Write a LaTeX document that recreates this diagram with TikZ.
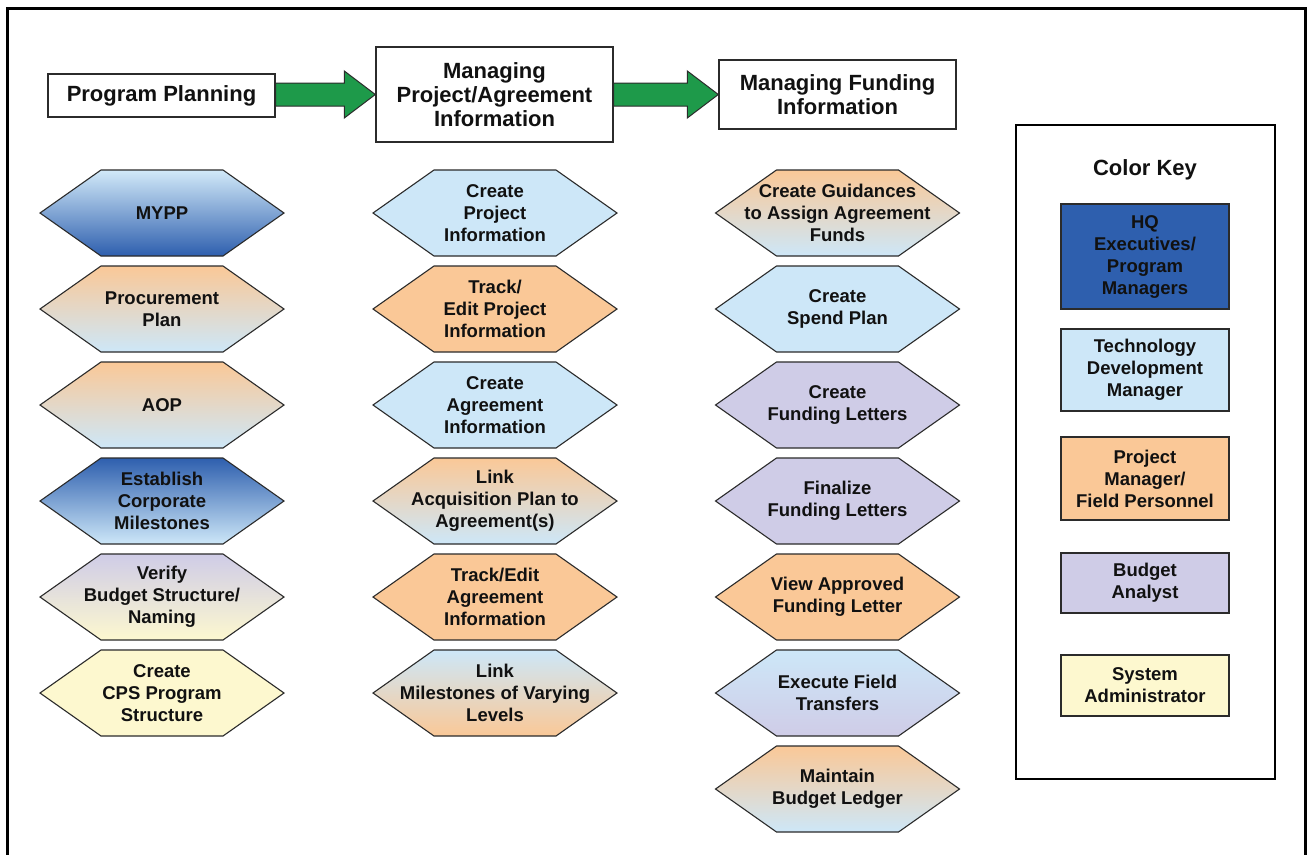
\documentclass[tikz,border=0pt]{standalone}
\usepackage{fontspec}
\setmainfont{Liberation Sans}
\usetikzlibrary{calc}
\definecolor{hqblue}{HTML}{2E5FAE}
\definecolor{ltblue}{HTML}{CDE7F8}
\definecolor{peach}{HTML}{FAC897}
\definecolor{lav}{HTML}{CFCCE7}
\definecolor{lyellow}{HTML}{FDF8CF}
\definecolor{arrgreen}{HTML}{1E9A4A}
\definecolor{edgegray}{HTML}{2B2B2B}
\definecolor{txt}{HTML}{111111}
\newcommand\hexnode[5]{%
  \path[hexline,#4] ({#2-122},#3) -- ({#2-61},{#3-43}) -- ({#2+61},{#3-43}) -- ({#2+122},#3)
     -- ({#2+61},{#3+43}) -- ({#2-61},{#3+43}) -- cycle;
  \node[hexbox] (#1) at (#2,#3) {#5};}
\begin{document}
\begin{tikzpicture}[x=1pt,y=-1pt,
  hexline/.style={draw=edgegray,line width=1.1pt},
  hexbox/.style={align=center,text=txt,font=\bfseries\fontsize{18.5}{22}\selectfont,inner sep=0pt},
  hdr/.style={draw=edgegray,line width=1.4pt,fill=white,align=center,text=txt,font=\bfseries\fontsize{22}{24}\selectfont,inner sep=0pt},
  keybox/.style={draw=edgegray,line width=1.4pt,align=center,text=txt,minimum width=168pt,font=\bfseries\fontsize{18.5}{22}\selectfont,inner sep=0pt},
  garrow/.style={fill=arrgreen,draw=edgegray,line width=1pt,line join=miter},
  solidblue/.style={fill=ltblue},
  solidpeach/.style={fill=peach},
  solidlav/.style={fill=lav},
  solidyel/.style={fill=lyellow},
  ltdk/.style={top color=ltblue!90!white,bottom color=hqblue},
  dklt/.style={top color=hqblue,bottom color=ltblue},
  pbl/.style={top color=peach,bottom color=ltblue},
  bpl/.style={top color=ltblue,bottom color=peach},
  lavyel/.style={top color=lav,bottom color=lyellow},
  blav/.style={top color=ltblue,bottom color=lav}
]
\useasboundingbox (0,0) rectangle (1308,854);
\fill[white] (0,0) rectangle (1308,854);
\draw[line width=3pt,line join=miter] (7,856) -- (7,8) -- (1305,8) -- (1305,856);

% headers
\node[hdr,minimum width=227pt,minimum height=43pt] (pp) at (161.5,95.5) {Program Planning};
\node[hdr,minimum width=237pt,minimum height=95pt] (mp) at (494.5,94.5) {Managing\\Project/Agreement\\Information};
\node[hdr,minimum width=237pt,minimum height=69pt] (mf) at (837.5,94.5) {Managing Funding\\Information};

% arrows
\path[garrow] ($(pp.east |- mp.west)+(0,-11.5)$) -- ($(mp.west)+(-31,-11.5)$) -- ($(mp.west)+(-31,-23.5)$)
  -- (mp.west) -- ($(mp.west)+(-31,23.5)$) -- ($(mp.west)+(-31,11.5)$) -- ($(pp.east |- mp.west)+(0,11.5)$) -- cycle;
\path[garrow] ($(mp.east |- mf.west)+(0,-11.5)$) -- ($(mf.west)+(-31,-11.5)$) -- ($(mf.west)+(-31,-23.5)$)
  -- (mf.west) -- ($(mf.west)+(-31,23.5)$) -- ($(mf.west)+(-31,11.5)$) -- ($(mp.east |- mf.west)+(0,11.5)$) -- cycle;

% column 1
\hexnode{a1}{162}{213}{ltdk}{MYPP}
\hexnode{a2}{162}{309}{pbl}{Procurement\\Plan}
\hexnode{a3}{162}{405}{pbl}{AOP}
\hexnode{a4}{162}{501}{dklt}{Establish\\Corporate\\Milestones}
\hexnode{a5}{162}{597}{lavyel}{Verify\\Budget Structure/\\Naming}
\hexnode{a6}{162}{693}{solidyel}{Create\\CPS Program\\Structure}

% column 2
\hexnode{b1}{495}{213}{solidblue}{Create\\Project\\Information}
\hexnode{b2}{495}{309}{solidpeach}{Track/\\Edit Project\\Information}
\hexnode{b3}{495}{405}{solidblue}{Create\\Agreement\\Information}
\hexnode{b4}{495}{501}{pbl}{Link\\Acquisition Plan to\\Agreement(s)}
\hexnode{b5}{495}{597}{solidpeach}{Track/Edit\\Agreement\\Information}
\hexnode{b6}{495}{693}{bpl}{Link\\Milestones of Varying\\Levels}

% column 3
\hexnode{c1}{837.5}{213}{pbl}{Create Guidances\\to Assign Agreement\\Funds}
\hexnode{c2}{837.5}{309}{solidblue}{Create\\Spend Plan}
\hexnode{c3}{837.5}{405}{solidlav}{Create\\Funding Letters}
\hexnode{c4}{837.5}{501}{solidlav}{Finalize\\Funding Letters}
\hexnode{c5}{837.5}{597}{solidpeach}{View Approved\\Funding Letter}
\hexnode{c6}{837.5}{693}{blav}{Execute Field\\Transfers}
\hexnode{c7}{837.5}{789}{pbl}{Maintain\\Budget Ledger}

% color key
\node[draw=black,line width=2.6pt,minimum width=259pt,minimum height=654pt] (keyframe) at (1145.5,452) {};
\node[text=txt,font=\bfseries\fontsize{22}{24}\selectfont] (keytitle) at (1145,170) {Color Key};
\node[keybox,fill=hqblue,minimum height=105pt] (khq) at (1145,256.5) {HQ\\Executives/\\Program\\Managers};
\node[keybox,fill=ltblue,minimum height=82pt] (ktd) at (1145,370) {Technology\\Development\\Manager};
\node[keybox,fill=peach,minimum height=83pt] (kpm) at (1145,478.5) {Project\\Manager/\\Field Personnel};
\node[keybox,fill=lav,minimum height=60pt] (kba) at (1145,583) {Budget\\Analyst};
\node[keybox,fill=lyellow,minimum height=61pt] (ksa) at (1145,685.5) {System\\Administrator};
\end{tikzpicture}
\end{document}
